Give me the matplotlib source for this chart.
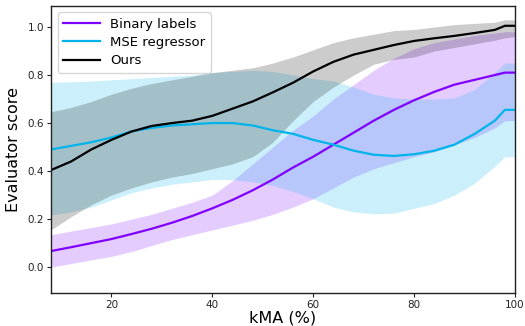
import numpy as np
import matplotlib
matplotlib.use('Agg')
import matplotlib.pyplot as plt

kma = [8, 12, 16, 20, 24, 28, 32, 36, 40, 44, 48, 52, 56, 60, 64, 68, 72, 76, 80, 84, 88, 92, 96, 98, 100]

# Binary labels
bin_mean = [0.067, 0.083, 0.100, 0.117, 0.138, 0.160, 0.185, 0.213, 0.245, 0.280, 0.320, 0.365, 0.415,
            0.460, 0.510, 0.560, 0.610, 0.655, 0.695, 0.730, 0.760, 0.780, 0.800, 0.810, 0.810]
bin_low = [0.000, 0.015, 0.030, 0.045, 0.065, 0.090, 0.115, 0.135, 0.155, 0.175, 0.195, 0.220, 0.250,
           0.285, 0.330, 0.375, 0.410, 0.435, 0.460, 0.480, 0.510, 0.540, 0.580, 0.610, 0.610]
bin_high = [0.135, 0.150, 0.165, 0.180, 0.200, 0.220, 0.245, 0.270, 0.300, 0.360, 0.430, 0.500, 0.570,
            0.630, 0.700, 0.760, 0.820, 0.870, 0.910, 0.935, 0.950, 0.965, 0.975, 0.980, 0.980]

# MSE regressor
mse_mean = [0.490, 0.505, 0.520, 0.540, 0.565, 0.580, 0.590, 0.595, 0.600, 0.600, 0.590, 0.570, 0.555,
            0.530, 0.510, 0.485, 0.468, 0.463, 0.470, 0.485, 0.510, 0.555, 0.610, 0.655, 0.655]
mse_low = [0.217, 0.230, 0.250, 0.280, 0.310, 0.330, 0.345, 0.355, 0.365, 0.365, 0.355, 0.340, 0.315,
           0.285, 0.250, 0.230, 0.222, 0.225, 0.245, 0.265, 0.300, 0.350, 0.420, 0.460, 0.460]
mse_high = [0.770, 0.772, 0.775, 0.780, 0.785, 0.790, 0.795, 0.800, 0.810, 0.815, 0.820, 0.815, 0.800,
            0.785, 0.775, 0.750, 0.720, 0.705, 0.700, 0.700, 0.705, 0.740, 0.810, 0.850, 0.850]

# Ours
our_mean = [0.404, 0.440, 0.490, 0.530, 0.565, 0.588, 0.600, 0.610, 0.630, 0.660, 0.690, 0.728, 0.768,
            0.815, 0.855, 0.885, 0.905, 0.925, 0.942, 0.953, 0.963, 0.975, 0.988, 1.005, 1.005]
our_low = [0.155, 0.210, 0.260, 0.300, 0.330, 0.355, 0.375, 0.390, 0.410, 0.430, 0.460, 0.520, 0.610,
           0.690, 0.750, 0.800, 0.845, 0.865, 0.875, 0.900, 0.915, 0.930, 0.945, 0.955, 0.960]
our_high = [0.647, 0.665, 0.690, 0.720, 0.745, 0.765, 0.780, 0.795, 0.810, 0.820, 0.830, 0.850, 0.875,
            0.905, 0.935, 0.955, 0.970, 0.985, 0.990, 1.000, 1.010, 1.015, 1.020, 1.030, 1.030]

series = [
    ('Binary labels', bin_mean, bin_low, bin_high, '#8000ff'),
    ('MSE regressor', mse_mean, mse_low, mse_high, '#00b4eb'),
    ('Ours', our_mean, our_low, our_high, 'black'),
]

fig = plt.figure(figsize=(5.25, 3.26), dpi=100)
ax = fig.add_axes([0.097, 0.101, 0.884, 0.881])

for name, m, lo, hi, c in series:
    ax.fill_between(kma, lo, hi, color=c, alpha=0.2, linewidth=0)
for name, m, lo, hi, c in series:
    ax.plot(kma, m, color=c, lw=1.6, label=name)

ax.set_xlim(8, 100)
ax.set_ylim(-0.108, 1.088)
ax.set_xticks([20, 40, 60, 80, 100])
ax.set_yticks([0.0, 0.2, 0.4, 0.6, 0.8, 1.0])
ax.tick_params(labelsize=7.5, length=3, width=0.8, pad=2, colors='#222222')
for s in ax.spines.values():
    s.set_color('#222222')
    s.set_linewidth(1.0)
ax.set_xlabel('kMA (%)', fontsize=11.5, labelpad=0)
ax.set_ylabel('Evaluator score', fontsize=11.5, labelpad=5)

ax.legend(loc='upper left', fontsize=9.5, handlelength=2.8, borderpad=0.4,
          labelspacing=0.4, framealpha=0.8, edgecolor='#cccccc')

fig.savefig('out.png', dpi=100)
